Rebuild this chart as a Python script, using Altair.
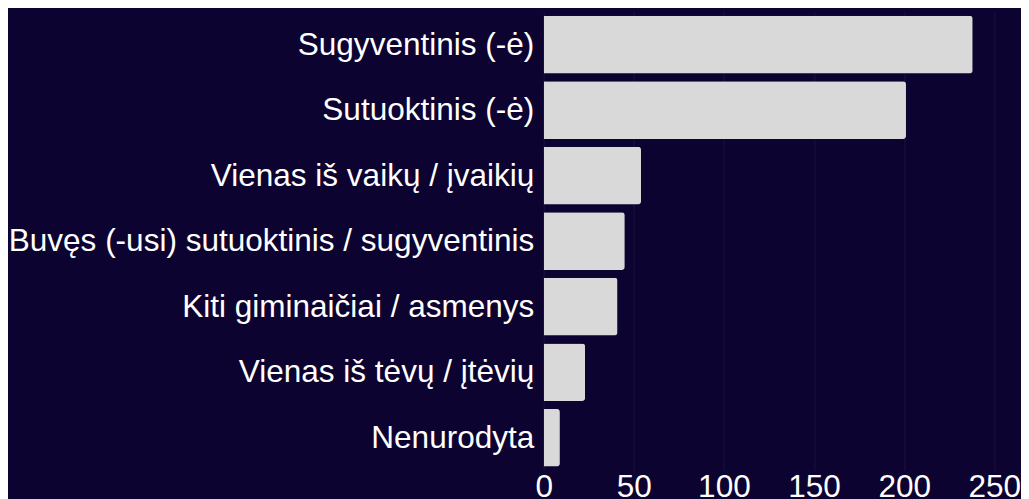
import altair as alt
import pandas as pd

categories = [
    "Sugyventinis (-ė)",
    "Sutuoktinis (-ė)",
    "Vienas iš vaikų / įvaikių",
    "Buvęs (-usi) sutuoktinis / sugyventinis",
    "Kiti giminaičiai / asmenys",
    "Vienas iš tėvų / įtėvių",
    "Nenurodyta",
]
values = [238, 201, 54, 45, 41, 23, 9]
x_ticks = [0, 50, 100, 150, 200, 250]

df = pd.DataFrame({"cat": categories, "val": values})

BG = "#0d0330"
FONT = "Liberation Sans"
FS = 31.9

chart = (
    alt.Chart(df)
    .mark_bar(color="#d9d9d9", cornerRadiusEnd=3)
    .encode(
        x=alt.X(
            "val:Q",
            scale=alt.Scale(domain=[0, 250], nice=False),
            axis=alt.Axis(
                values=x_ticks,
                title=None,
                domain=False,
                ticks=False,
                labelFontSize=FS,
                labelColor="#ffffff",
                labelFont=FONT,
                labelPadding=1,
                grid=True,
                gridColor="#1b1240",
                gridWidth=1,
                labelFlush=False,
            ),
        ),
        y=alt.Y(
            "cat:N",
            sort=categories,
            scale=alt.Scale(paddingInner=0.12, paddingOuter=0.06),
            axis=alt.Axis(
                title=None,
                domain=False,
                ticks=False,
                labelFontSize=FS,
                labelColor="#ffffff",
                labelFont=FONT,
                labelPadding=10,
                labelLimit=1000,
                grid=False,
            ),
        ),
    )
    .properties(
        width=456,
        height=464,
        background=BG,
        padding={"top": 1, "left": 0, "right": 0, "bottom": 0},
    )
    .configure_view(strokeWidth=0)
)

chart.save("out.html", embed_options={"renderer": "svg", "actions": False})
